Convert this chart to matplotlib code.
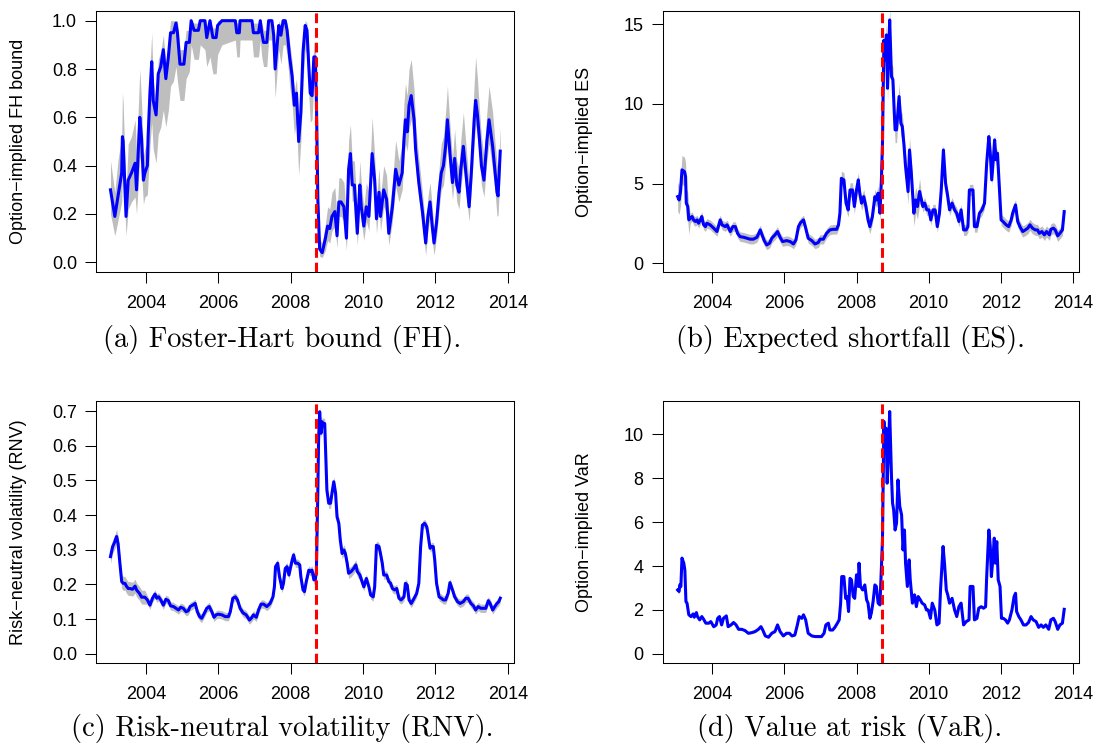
import numpy as np
import matplotlib
matplotlib.use("Agg")
import matplotlib.pyplot as plt

# ---- data (decimal years) ----
lehman = 2008.71

fh_dates = [2003.02, 2003.14, 2003.23, 2003.33, 2003.35, 2003.37, 2003.45, 2003.51, 2003.60, 2003.70,
            2003.74, 2003.83, 2003.88, 2003.93, 2003.97, 2004.04, 2004.06, 2004.11, 2004.16, 2004.20,
            2004.28, 2004.34, 2004.41, 2004.48, 2004.55, 2004.62, 2004.68, 2004.76, 2004.83, 2004.87,
            2004.94, 2005.05, 2005.11, 2005.20, 2005.25, 2005.33, 2005.45, 2005.50, 2005.63, 2005.68,
            2005.77, 2005.85, 2005.94, 2005.98, 2006.10, 2006.47, 2006.51, 2006.58, 2006.60, 2006.93,
            2006.97, 2007.11, 2007.16, 2007.20, 2007.25, 2007.34, 2007.39, 2007.48, 2007.53, 2007.57,
            2007.67, 2007.73, 2007.79, 2007.85, 2007.90, 2007.97, 2008.04, 2008.10, 2008.16, 2008.22,
            2008.28, 2008.34, 2008.40, 2008.45, 2008.50, 2008.54, 2008.59, 2008.64, 2008.68, 2008.71,
            2008.75, 2008.80, 2008.87, 2008.96, 2009.02, 2009.08, 2009.14, 2009.22, 2009.28, 2009.33,
            2009.39, 2009.47, 2009.54, 2009.60, 2009.65, 2009.70, 2009.76, 2009.84, 2009.91, 2009.95,
            2010.02, 2010.09, 2010.16, 2010.25, 2010.32, 2010.37, 2010.44, 2010.48, 2010.57, 2010.65,
            2010.71, 2010.81, 2010.90, 2010.99, 2011.08, 2011.13, 2011.17, 2011.22, 2011.27, 2011.33,
            2011.41, 2011.45, 2011.54, 2011.64, 2011.73, 2011.79, 2011.85, 2011.91, 2011.96, 2012.03,
            2012.10, 2012.16, 2012.22, 2012.28, 2012.33, 2012.40, 2012.47, 2012.53, 2012.59, 2012.65,
            2012.70, 2012.77, 2012.84, 2012.93, 2012.99, 2013.07, 2013.11, 2013.16, 2013.21, 2013.27,
            2013.34, 2013.42, 2013.48, 2013.58, 2013.64, 2013.70, 2013.73, 2013.79]
fh = [0.30, 0.19, 0.275, 0.37, 0.52, 0.50, 0.19, 0.34, 0.37, 0.41,
      0.30, 0.60, 0.51, 0.34, 0.37, 0.40, 0.52, 0.70, 0.83, 0.67,
      0.61, 0.78, 0.81, 0.88, 0.76, 0.85, 0.95, 0.95, 0.99, 0.95,
      0.82, 0.82, 0.91, 0.91, 1.00, 0.96, 0.96, 1.00, 1.00, 0.93,
      1.00, 0.93, 0.93, 0.98, 1.00, 1.00, 0.95, 0.95, 1.00, 1.00,
      0.95, 0.95, 1.00, 0.95, 0.91, 0.91, 1.00, 1.00, 0.94, 0.80,
      0.98, 0.94, 1.00, 1.00, 0.96, 0.85, 0.77, 0.65, 0.70, 0.50,
      0.62, 0.87, 0.98, 0.96, 0.81, 0.70, 0.69, 0.85, 0.85, 0.67,
      0.26, 0.055, 0.04, 0.10, 0.15, 0.14, 0.19, 0.21, 0.11, 0.25,
      0.25, 0.23, 0.10, 0.385, 0.45, 0.32, 0.32, 0.12, 0.32, 0.23,
      0.15, 0.23, 0.19, 0.45, 0.34, 0.18, 0.29, 0.19, 0.30, 0.26,
      0.12, 0.23, 0.385, 0.32, 0.37, 0.51, 0.59, 0.54, 0.65, 0.69,
      0.59, 0.47, 0.33, 0.21, 0.08, 0.19, 0.25, 0.15, 0.08, 0.165,
      0.29, 0.37, 0.40, 0.48, 0.59, 0.45, 0.33, 0.43, 0.32, 0.29,
      0.385, 0.48, 0.37, 0.23, 0.37, 0.59, 0.67, 0.61, 0.52, 0.40,
      0.34, 0.50, 0.59, 0.48, 0.385, 0.29, 0.275, 0.46]
# distance of the grey band below / above the line
fh_below = [0.10, 0.08, 0.10, 0.12, 0.15, 0.14, 0.08, 0.12, 0.12, 0.14,
            0.10, 0.16, 0.14, 0.10, 0.10, 0.12, 0.18, 0.22, 0.25, 0.20,
            0.20, 0.25, 0.25, 0.25, 0.20, 0.22, 0.22, 0.20, 0.18, 0.20,
            0.15, 0.15, 0.15, 0.12, 0.10, 0.12, 0.12, 0.10, 0.12, 0.12,
            0.15, 0.15, 0.15, 0.12, 0.10, 0.08, 0.10, 0.10, 0.08, 0.08,
            0.10, 0.10, 0.08, 0.10, 0.10, 0.10, 0.08, 0.08, 0.10, 0.12,
            0.10, 0.12, 0.10, 0.10, 0.10, 0.12, 0.12, 0.12, 0.12, 0.14,
            0.12, 0.12, 0.10, 0.10, 0.12, 0.12, 0.10, 0.10, 0.10, 0.08,
            0.08, 0.03, 0.02, 0.05, 0.06, 0.06, 0.06, 0.06, 0.05, 0.06,
            0.06, 0.06, 0.05, 0.07, 0.08, 0.07, 0.06, 0.05, 0.06, 0.06,
            0.06, 0.06, 0.06, 0.08, 0.07, 0.06, 0.06, 0.06, 0.07, 0.06,
            0.05, 0.06, 0.07, 0.07, 0.07, 0.08, 0.10, 0.08, 0.10, 0.10,
            0.10, 0.08, 0.07, 0.06, 0.05, 0.06, 0.06, 0.06, 0.05, 0.06,
            0.07, 0.07, 0.08, 0.08, 0.10, 0.08, 0.07, 0.08, 0.07, 0.07,
            0.08, 0.08, 0.08, 0.06, 0.07, 0.10, 0.10, 0.10, 0.08, 0.08,
            0.07, 0.08, 0.10, 0.10, 0.08, 0.10, 0.08, 0.08]
fh_above = [0.12, 0.10, 0.15, 0.15, 0.18, 0.16, 0.10, 0.15, 0.15, 0.18,
            0.15, 0.20, 0.15, 0.10, 0.10, 0.10, 0.10, 0.10, 0.12, 0.08,
            0.06, 0.06, 0.06, 0.06, 0.06, 0.06, 0.05, 0.05, 0.01, 0.05,
            0.06, 0.06, 0.05, 0.05, 0.00, 0.03, 0.03, 0.00, 0.00, 0.04,
            0.00, 0.04, 0.04, 0.02, 0.00, 0.00, 0.04, 0.04, 0.00, 0.00,
            0.04, 0.04, 0.00, 0.04, 0.05, 0.05, 0.00, 0.00, 0.04, 0.06,
            0.02, 0.04, 0.00, 0.00, 0.03, 0.06, 0.06, 0.06, 0.06, 0.08,
            0.06, 0.06, 0.02, 0.03, 0.06, 0.06, 0.06, 0.06, 0.06, 0.06,
            0.06, 0.04, 0.04, 0.06, 0.08, 0.08, 0.10, 0.10, 0.08, 0.10,
            0.10, 0.10, 0.08, 0.12, 0.12, 0.10, 0.10, 0.08, 0.10, 0.10,
            0.08, 0.10, 0.10, 0.15, 0.10, 0.08, 0.10, 0.08, 0.10, 0.10,
            0.08, 0.10, 0.12, 0.10, 0.12, 0.15, 0.15, 0.15, 0.15, 0.15,
            0.12, 0.10, 0.10, 0.08, 0.06, 0.08, 0.08, 0.08, 0.06, 0.08,
            0.10, 0.12, 0.12, 0.14, 0.14, 0.12, 0.10, 0.12, 0.10, 0.10,
            0.12, 0.14, 0.12, 0.10, 0.12, 0.15, 0.18, 0.15, 0.12, 0.12,
            0.10, 0.12, 0.14, 0.14, 0.12, 0.12, 0.10, 0.10]

es_dates = [2003.04, 2003.08, 2003.12, 2003.16, 2003.23, 2003.26, 2003.28, 2003.32, 2003.35, 2003.39,
            2003.44, 2003.48, 2003.53, 2003.58, 2003.62, 2003.67, 2003.71, 2003.76, 2003.81, 2003.85,
            2003.94, 2004.04, 2004.13, 2004.22, 2004.27, 2004.36, 2004.41, 2004.50, 2004.57, 2004.64,
            2004.70, 2004.77, 2004.87, 2004.96, 2005.05, 2005.14, 2005.24, 2005.33, 2005.38, 2005.44,
            2005.51, 2005.59, 2005.65, 2005.74, 2005.81, 2005.88, 2005.95, 2006.06, 2006.16, 2006.25,
            2006.32, 2006.39, 2006.45, 2006.53, 2006.58, 2006.66, 2006.76, 2006.85, 2006.94, 2006.99,
            2007.08, 2007.17, 2007.26, 2007.35, 2007.45, 2007.50, 2007.54, 2007.58, 2007.65, 2007.71,
            2007.77, 2007.82, 2007.89, 2007.94, 2008.00, 2008.05, 2008.09, 2008.14, 2008.20, 2008.26,
            2008.32, 2008.37, 2008.44, 2008.51, 2008.55, 2008.60, 2008.65, 2008.69, 2008.72, 2008.76,
            2008.79, 2008.83, 2008.86, 2008.88, 2008.92, 2008.97, 2009.01, 2009.04, 2009.07, 2009.11,
            2009.18, 2009.23, 2009.27, 2009.32, 2009.36, 2009.43, 2009.47, 2009.52, 2009.59, 2009.64,
            2009.69, 2009.75, 2009.80, 2009.84, 2009.89, 2009.95, 2010.01, 2010.06, 2010.12, 2010.18,
            2010.24, 2010.30, 2010.35, 2010.41, 2010.47, 2010.53, 2010.58, 2010.65, 2010.72, 2010.78,
            2010.84, 2010.90, 2010.97, 2011.04, 2011.09, 2011.13, 2011.23, 2011.27, 2011.34, 2011.41,
            2011.48, 2011.55, 2011.61, 2011.67, 2011.71, 2011.75, 2011.80, 2011.83, 2011.87, 2011.91,
            2011.96, 2012.01, 2012.06, 2012.15, 2012.22, 2012.29, 2012.33, 2012.41, 2012.47, 2012.53,
            2012.61, 2012.68, 2012.75, 2012.81, 2012.88, 2012.96, 2013.02, 2013.07, 2013.14, 2013.21,
            2013.27, 2013.35, 2013.39, 2013.46, 2013.51, 2013.58, 2013.64, 2013.71, 2013.76]
es = [4.18, 3.97, 4.50, 5.86, 5.75, 5.44, 3.77, 3.56, 2.72, 2.82,
      2.93, 2.72, 2.62, 2.72, 2.51, 2.72, 2.93, 2.41, 2.30, 2.51,
      2.41, 2.20, 1.99, 2.72, 2.41, 2.30, 2.41, 1.99, 2.30, 2.30,
      1.88, 1.67, 1.63, 1.57, 1.51, 1.51, 1.63, 2.09, 1.78, 1.42,
      1.15, 1.26, 1.57, 1.78, 1.99, 1.63, 1.36, 1.42, 1.36, 1.21,
      1.46, 2.30, 2.55, 2.72, 2.30, 1.57, 1.42, 1.21, 1.30, 1.51,
      1.51, 1.88, 2.09, 2.13, 2.13, 2.41, 3.14, 5.33, 5.23, 3.77,
      3.35, 4.60, 4.60, 3.56, 4.60, 5.23, 4.39, 3.77, 4.18, 3.56,
      2.72, 2.30, 2.93, 4.18, 3.97, 4.39, 3.14, 5.23, 7.53, 14.0,
      12.76, 14.33, 10.98, 12.34, 15.27, 11.72, 11.51, 9.83, 8.37, 8.37,
      10.46, 8.79, 8.58, 7.32, 6.07, 4.50, 7.11, 5.65, 3.14, 3.97,
      3.56, 4.50, 3.97, 3.56, 3.77, 3.35, 3.35, 2.72, 3.35, 3.35,
      2.30, 3.14, 4.60, 7.11, 5.02, 4.18, 3.35, 3.77, 3.35, 3.14,
      2.62, 3.35, 2.09, 2.09, 2.30, 4.60, 4.60, 2.30, 2.30, 3.14,
      3.35, 3.77, 6.28, 7.95, 6.90, 5.23, 6.69, 7.74, 6.49, 6.90,
      4.81, 2.72, 2.62, 2.41, 2.30, 2.72, 3.14, 3.66, 2.62, 2.30,
      1.99, 2.09, 2.20, 2.41, 2.20, 2.09, 2.09, 1.88, 1.99, 1.78,
      1.99, 1.78, 2.13, 2.20, 2.09, 1.72, 1.88, 2.09, 3.24]
# half width of the grey band, by stretch of the sample
es_band = [0.9] * 9 + [0.3] * 57 + [0.45] * 21 + [0.8] * 25 + [0.35] * 67

rnv_dates = [2003.02, 2003.08, 2003.14, 2003.19, 2003.23, 2003.28, 2003.33, 2003.37, 2003.42, 2003.46,
             2003.51, 2003.56, 2003.63, 2003.70, 2003.74, 2003.82, 2003.88, 2003.97, 2004.04, 2004.11,
             2004.18, 2004.25, 2004.30, 2004.35, 2004.41, 2004.48, 2004.55, 2004.62, 2004.68, 2004.76,
             2004.83, 2004.90, 2004.96, 2005.03, 2005.11, 2005.17, 2005.22, 2005.29, 2005.36, 2005.42,
             2005.48, 2005.54, 2005.61, 2005.68, 2005.75, 2005.82, 2005.88, 2005.94, 2006.00, 2006.10,
             2006.19, 2006.28, 2006.33, 2006.40, 2006.47, 2006.53, 2006.60, 2006.68, 2006.77, 2006.86,
             2006.93, 2006.97, 2007.05, 2007.11, 2007.18, 2007.25, 2007.34, 2007.43, 2007.51, 2007.55,
             2007.58, 2007.64, 2007.69, 2007.76, 2007.80, 2007.85, 2007.90, 2007.95, 2007.99, 2008.04,
             2008.08, 2008.13, 2008.19, 2008.25, 2008.28, 2008.34, 2008.38, 2008.43, 2008.50, 2008.54,
             2008.59, 2008.64, 2008.68, 2008.71, 2008.75, 2008.77, 2008.80, 2008.84, 2008.87, 2008.89,
             2008.94, 2008.97, 2009.00, 2009.05, 2009.10, 2009.14, 2009.19, 2009.24, 2009.28, 2009.33,
             2009.37, 2009.42, 2009.47, 2009.51, 2009.56, 2009.60, 2009.67, 2009.74, 2009.80, 2009.84,
             2009.91, 2009.97, 2010.02, 2010.09, 2010.16, 2010.21, 2010.28, 2010.32, 2010.37, 2010.44,
             2010.48, 2010.53, 2010.57, 2010.65, 2010.71, 2010.76, 2010.81, 2010.87, 2010.93, 2010.99,
             2011.05, 2011.13, 2011.17, 2011.22, 2011.27, 2011.33, 2011.41, 2011.48, 2011.54, 2011.59,
             2011.64, 2011.70, 2011.76, 2011.79, 2011.85, 2011.89, 2011.94, 2011.98, 2012.03, 2012.10,
             2012.16, 2012.22, 2012.28, 2012.35, 2012.40, 2012.47, 2012.53, 2012.61, 2012.68, 2012.77,
             2012.84, 2012.90, 2012.98, 2013.05, 2013.11, 2013.18, 2013.25, 2013.33, 2013.39, 2013.46,
             2013.51, 2013.58, 2013.64, 2013.70, 2013.75, 2013.79]
rnv = [0.280, 0.309, 0.323, 0.338, 0.318, 0.261, 0.208, 0.203, 0.203, 0.195,
       0.188, 0.188, 0.186, 0.195, 0.184, 0.174, 0.163, 0.163, 0.155, 0.140,
       0.160, 0.172, 0.160, 0.164, 0.155, 0.140, 0.157, 0.153, 0.138, 0.136,
       0.131, 0.126, 0.134, 0.131, 0.121, 0.124, 0.136, 0.140, 0.145, 0.121,
       0.107, 0.102, 0.116, 0.131, 0.136, 0.121, 0.105, 0.112, 0.114, 0.112,
       0.107, 0.107, 0.121, 0.160, 0.164, 0.155, 0.131, 0.118, 0.112, 0.097,
       0.105, 0.112, 0.105, 0.126, 0.143, 0.143, 0.136, 0.145, 0.164, 0.193,
       0.251, 0.261, 0.222, 0.188, 0.203, 0.246, 0.251, 0.227, 0.246, 0.270,
       0.285, 0.261, 0.261, 0.256, 0.222, 0.184, 0.179, 0.208, 0.241, 0.237,
       0.241, 0.213, 0.213, 0.241, 0.472, 0.616, 0.698, 0.636, 0.669, 0.664,
       0.664, 0.568, 0.472, 0.434, 0.434, 0.463, 0.496, 0.463, 0.395, 0.376,
       0.328, 0.289, 0.299, 0.289, 0.261, 0.232, 0.237, 0.246, 0.256, 0.237,
       0.227, 0.208, 0.193, 0.217, 0.193, 0.169, 0.164, 0.193, 0.313, 0.309,
       0.289, 0.261, 0.227, 0.227, 0.208, 0.203, 0.188, 0.184, 0.188, 0.160,
       0.155, 0.164, 0.203, 0.198, 0.155, 0.145, 0.160, 0.174, 0.203, 0.309,
       0.371, 0.376, 0.366, 0.347, 0.304, 0.309, 0.309, 0.270, 0.203, 0.164,
       0.160, 0.155, 0.155, 0.174, 0.205, 0.184, 0.164, 0.150, 0.145, 0.150,
       0.160, 0.160, 0.145, 0.138, 0.126, 0.136, 0.131, 0.131, 0.131, 0.153,
       0.145, 0.126, 0.136, 0.145, 0.150, 0.160]
rnv_band = [0.02] * 18 + [0.012] * 75 + [0.015] * 29 + [0.012] * 64

var_dates = [2003.04, 2003.08, 2003.10, 2003.13, 2003.16, 2003.21, 2003.24, 2003.27, 2003.30, 2003.35,
             2003.41, 2003.47, 2003.50, 2003.56, 2003.59, 2003.65, 2003.71, 2003.76, 2003.82, 2003.90,
             2003.96, 2004.04, 2004.11, 2004.15, 2004.20, 2004.26, 2004.31, 2004.39, 2004.44, 2004.52,
             2004.59, 2004.66, 2004.73, 2004.82, 2004.91, 2005.00, 2005.10, 2005.19, 2005.28, 2005.35,
             2005.40, 2005.47, 2005.56, 2005.65, 2005.74, 2005.81, 2005.88, 2005.97, 2006.06, 2006.14,
             2006.21, 2006.29, 2006.36, 2006.41, 2006.48, 2006.53, 2006.59, 2006.66, 2006.76, 2006.85,
             2006.94, 2007.03, 2007.10, 2007.15, 2007.22, 2007.26, 2007.34, 2007.40, 2007.47, 2007.52,
             2007.56, 2007.59, 2007.65, 2007.70, 2007.74, 2007.78, 2007.82, 2007.86, 2007.91, 2007.95,
             2008.00, 2008.05, 2008.07, 2008.11, 2008.17, 2008.23, 2008.28, 2008.32, 2008.37, 2008.41,
             2008.46, 2008.51, 2008.55, 2008.60, 2008.65, 2008.69, 2008.72, 2008.76, 2008.79, 2008.82,
             2008.85, 2008.88, 2008.92, 2008.97, 2009.00, 2009.03, 2009.07, 2009.11, 2009.15, 2009.20,
             2009.25, 2009.29, 2009.33, 2009.36, 2009.41, 2009.46, 2009.49, 2009.55, 2009.61, 2009.66,
             2009.71, 2009.77, 2009.82, 2009.89, 2009.94, 2009.99, 2010.05, 2010.10, 2010.17, 2010.23,
             2010.29, 2010.33, 2010.40, 2010.44, 2010.49, 2010.53, 2010.58, 2010.65, 2010.72, 2010.78,
             2010.84, 2010.90, 2010.97, 2011.04, 2011.12, 2011.15, 2011.23, 2011.27, 2011.34, 2011.39,
             2011.46, 2011.52, 2011.58, 2011.61, 2011.67, 2011.71, 2011.74, 2011.78, 2011.82, 2011.85,
             2011.89, 2011.93, 2011.98, 2012.02, 2012.07, 2012.13, 2012.19, 2012.24, 2012.31, 2012.37,
             2012.41, 2012.44, 2012.50, 2012.56, 2012.63, 2012.70, 2012.77, 2012.84, 2012.90, 2012.98,
             2013.05, 2013.12, 2013.18, 2013.25, 2013.33, 2013.39, 2013.46, 2013.51, 2013.58, 2013.64,
             2013.71, 2013.76]
var = [2.91, 2.84, 3.14, 3.07, 4.36, 4.13, 3.82, 2.38, 2.31, 1.78,
       1.70, 1.82, 1.67, 1.88, 1.70, 1.55, 1.70, 1.58, 1.40, 1.40,
       1.47, 1.24, 1.32, 1.62, 1.70, 1.32, 1.62, 1.73, 1.24, 1.32,
       1.43, 1.32, 1.12, 1.12, 1.06, 0.94, 0.97, 1.02, 1.12, 1.24,
       1.09, 0.82, 0.76, 0.94, 1.02, 1.32, 1.02, 0.82, 0.94, 0.94,
       0.82, 0.86, 1.32, 1.70, 1.62, 1.78, 1.55, 0.94, 0.82, 0.79,
       0.79, 0.79, 0.94, 1.32, 1.40, 1.09, 1.09, 1.21, 1.40, 1.55,
       2.31, 3.52, 3.52, 2.53, 2.61, 1.93, 3.44, 3.37, 2.61, 2.53,
       3.60, 3.07, 4.13, 3.07, 2.91, 3.14, 2.46, 2.31, 1.62, 1.85,
       2.38, 3.14, 3.07, 2.31, 2.23, 3.98, 5.19, 10.58, 9.29, 10.27,
       7.77, 8.98, 11.03, 8.07, 6.86, 6.56, 5.64, 5.95, 7.92, 6.71,
       6.33, 4.73, 5.64, 4.13, 3.07, 4.28, 3.37, 2.31, 2.69, 2.15,
       2.61, 2.46, 2.31, 2.23, 2.00, 2.00, 1.62, 2.31, 2.00, 1.32,
       1.40, 2.91, 4.89, 4.13, 2.91, 2.69, 2.31, 2.53, 2.00, 1.70,
       2.15, 2.31, 1.32, 1.47, 1.55, 3.07, 3.07, 1.55, 1.62, 2.08,
       2.15, 2.08, 2.15, 3.52, 5.64, 4.89, 3.52, 4.28, 5.27, 4.13,
       5.11, 3.37, 3.07, 1.62, 1.62, 1.55, 1.40, 1.55, 2.00, 2.61,
       2.76, 1.93, 1.70, 1.55, 1.32, 1.32, 1.43, 1.70, 1.55, 1.47,
       1.21, 1.32, 1.21, 1.32, 1.12, 1.55, 1.62, 1.47, 1.12, 1.32,
       1.40, 2.03]
var_band = [0.12] * 9 + [0.05] * 87 + [0.1] * 22 + [0.05] * 74

year_ticks = [2004, 2006, 2008, 2010, 2012, 2014]

W, H = 1099, 745
fig = plt.figure(figsize=(W / 100, H / 100), dpi=100)
sans = "Liberation Sans"


def panel(rect, dates, vals, lo, hi, ylim, yticks, yfmt, ylabel, caption, cap_x, cap_y):
    ax = fig.add_axes(rect)
    ax.fill_between(dates, lo, hi, color="#bebebe", lw=0)
    ax.plot(dates, vals, color="#0000ff", lw=2.2, solid_joinstyle="round")
    ax.axvline(lehman, color="#ff0000", lw=2.2, dashes=(3.2, 1.6))
    ax.set_xlim(2002.62, 2014.17)
    ax.set_ylim(*ylim)
    ax.set_xticks(year_ticks)
    ax.set_xticklabels([str(y) for y in year_ticks], fontfamily=sans, fontsize=13)
    ax.set_yticks(yticks)
    ax.set_yticklabels([yfmt.format(t) for t in yticks], fontfamily=sans, fontsize=13)
    ax.tick_params(axis="both", direction="out", length=7.9, width=0.75, color="black")
    ax.tick_params(axis="x", pad=9)
    ax.tick_params(axis="y", pad=5.8)
    for s in ax.spines.values():
        s.set_linewidth(0.75)
    ax.set_ylabel(ylabel, fontfamily=sans, fontsize=13)
    ax.yaxis.set_label_coords(-0.166, 0.5)
    fig.text(cap_x / W, 1 - cap_y / H, caption, fontfamily="cmr10", fontsize=20.5,
             ha="center", va="baseline")
    return ax


fh_d = np.array(fh_dates)
fh_v = np.array(fh)
panel([96 / W, 1 - 272 / H, 418 / W, 261 / H], fh_d, fh_v,
      fh_v - np.array(fh_below), fh_v + np.array(fh_above),
      (-0.04, 1.04), [0, 0.2, 0.4, 0.6, 0.8, 1.0], "{:.1f}",
      "Option\u2212implied FH bound", "(a) Foster-Hart bound (FH).", 282, 347)

es_v = np.array(es)
panel([662.5 / W, 1 - 272 / H, 416.5 / W, 261 / H], np.array(es_dates), es_v,
      es_v - np.array(es_band), es_v + np.array(es_band),
      (-0.55, 15.83), [0, 5, 10, 15], "{:d}",
      "Option\u2212implied ES", "(b) Expected shortfall (ES).", 850, 347)

rnv_v = np.array(rnv)
panel([96 / W, 1 - 662.7 / H, 418 / W, 261.7 / H], np.array(rnv_dates), rnv_v,
      rnv_v - np.array(rnv_band), rnv_v + np.array(rnv_band),
      (-0.026, 0.729), [0, 0.1, 0.2, 0.3, 0.4, 0.5, 0.6, 0.7], "{:.1f}",
      "Risk\u2212neutral volatility (RNV)", "(c) Risk-neutral volatility (RNV).", 282, 736)

var_v = np.array(var)
panel([662.5 / W, 1 - 662.7 / H, 416.5 / W, 261.7 / H], np.array(var_dates), var_v,
      var_v - np.array(var_band), var_v + np.array(var_band),
      (-0.40, 11.51), [0, 2, 4, 6, 8, 10], "{:d}",
      "Option\u2212implied VaR", "(d) Value at risk (VaR).", 850, 736)

fig.savefig("out.png", dpi=100)
